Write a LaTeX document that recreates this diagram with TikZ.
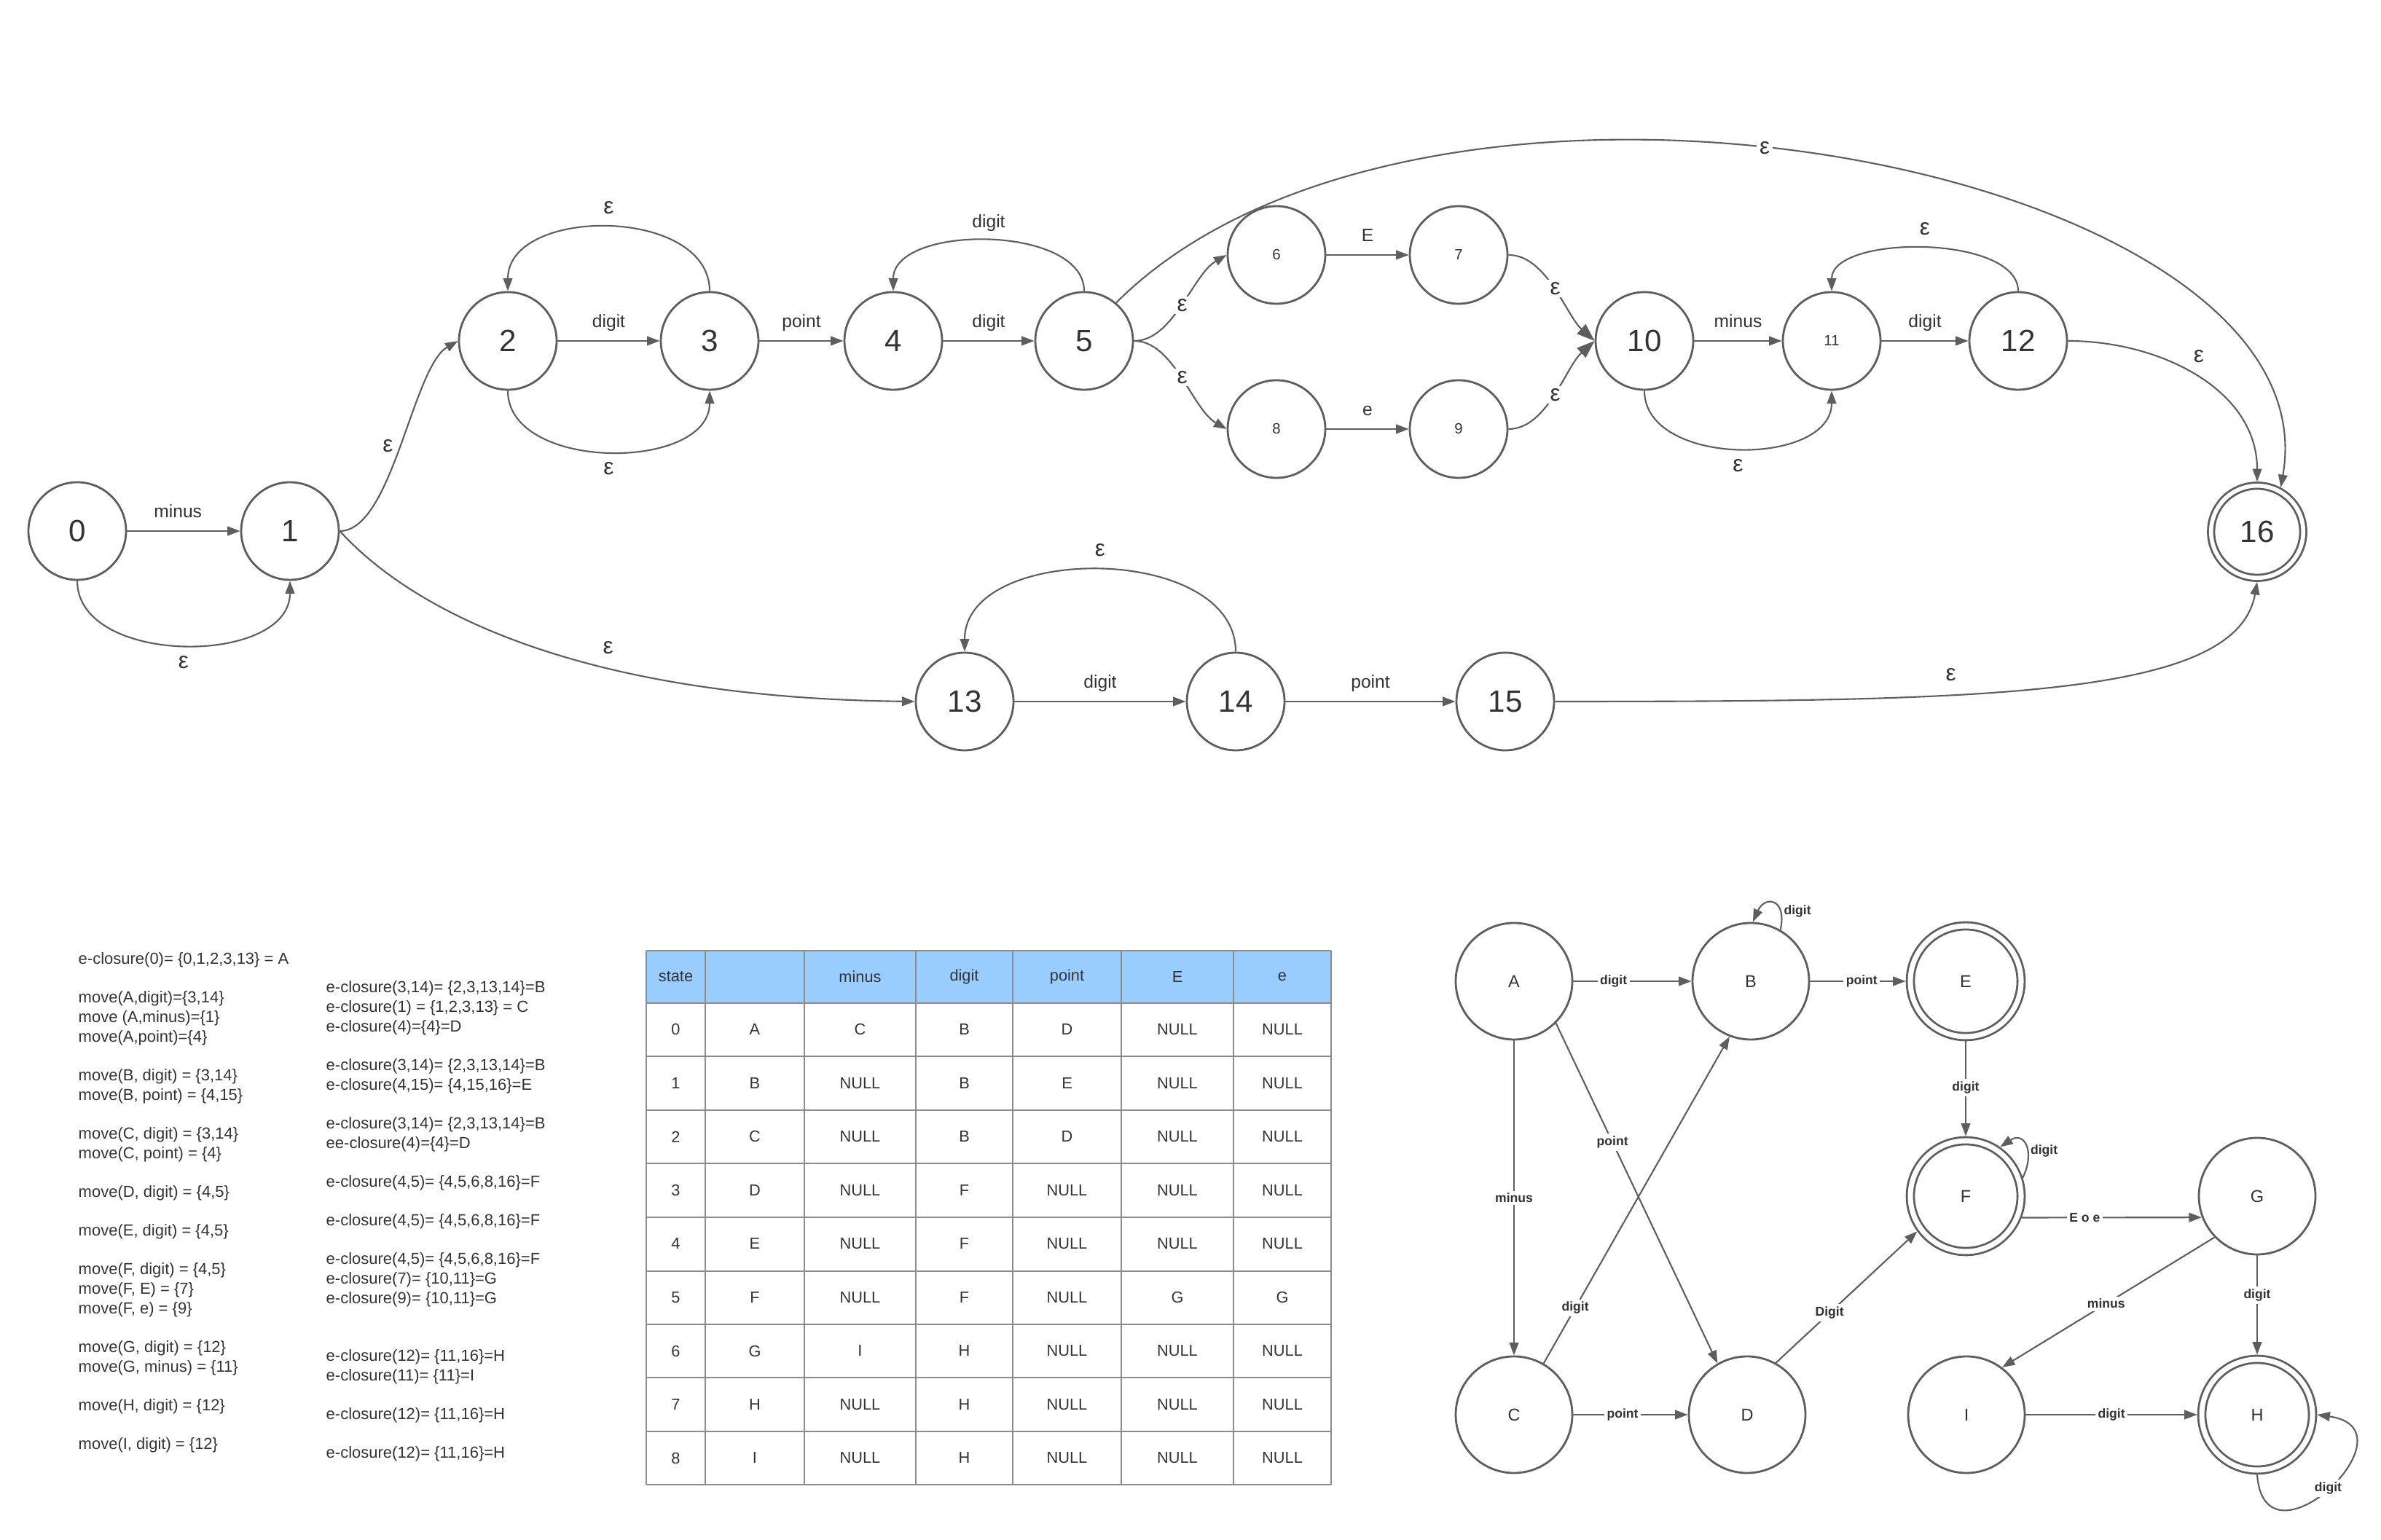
\documentclass[tikz,border=0pt]{standalone}
\usepackage{fontspec}
\setmainfont{Liberation Sans}
\usetikzlibrary{arrows.meta, positioning}
\definecolor{lineGray}{HTML}{5E5E5E}
\definecolor{textGray}{HTML}{333333}
\definecolor{gridGray}{HTML}{8C8C8C}
\definecolor{headBlue}{HTML}{99CCFF}
\tikzset{
  state/.style={circle, draw=lineGray, line width=0.8pt, minimum size=1.34cm, inner sep=0pt,
                text=textGray, font=\fontsize{12}{14}\selectfont},
  smallnum/.style={font=\fontsize{5.8}{7}\selectfont},
  finalstate/.style={double, double distance=1.6pt, minimum size=1.265cm, outer sep=1.6pt},
  link/.style={draw=lineGray, line width=0.6pt, ->},
  bigtip/.style={-{Triangle[length=7pt,width=5pt]}},
  sym/.style={text=textGray, font=\fontsize{7}{8}\selectfont, text height=5pt, text depth=1.5pt},
  eps/.style={text=textGray, font=\fontsize{9}{10}\selectfont, inner sep=2pt},
  onpath/.style={fill=white, inner sep=1pt},
  dstate/.style={circle, draw=lineGray, line width=0.8pt, minimum size=1.6cm, inner sep=0pt,
                 text=textGray, font=\fontsize{6.7}{8}\selectfont},
  daccept/.style={double, double distance=2pt, minimum size=1.52cm, outer sep=1.8pt},
  dlbl/.style={fill=white, inner sep=1pt, text=textGray, font=\fontsize{5}{6}\selectfont\bfseries},
  tcell/.style={text=textGray, font=\fontsize{6.2}{7}\selectfont},
  memo/.style={anchor=north west, align=left, inner sep=0pt, text=textGray,
               font=\fontsize{6.26}{7.68}\selectfont},
  >={Triangle[length=5pt,width=3.6pt]}
}
\begin{document}
\begin{tikzpicture}
\useasboundingbox (0,0) rectangle (32.68,21.13);

\node[state] (n0) at (1.06,13.84) {0};
\node[state] (n1) at (3.98,13.84) {1};
\node[state] (n2) at (6.97,16.45) {2};
\node[state] (n3) at (9.74,16.45) {3};
\node[state] (n4) at (12.26,16.45) {4};
\node[state] (n5) at (14.88,16.45) {5};
\node[state, smallnum] (n6) at (17.52,17.63) {6};
\node[state, smallnum] (n7) at (20.02,17.63) {7};
\node[state, smallnum] (n8) at (17.52,15.24) {8};
\node[state, smallnum] (n9) at (20.02,15.24) {9};
\node[state] (n10) at (22.57,16.45) {10};
\node[state, smallnum] (n11) at (25.14,16.45) {11};
\node[state] (n12) at (27.70,16.45) {12};
\node[state] (n13) at (13.24,11.50) {13};
\node[state] (n14) at (16.96,11.50) {14};
\node[state] (n15) at (20.66,11.50) {15};
\node[state, finalstate] (n16) at (30.98,13.83) {16};

\draw[link] (n0) -- node[sym, above, pos=0.45] {minus} (n1);
\draw[link] (n0.south) to[out=-90,in=-90,looseness=1.03] node[eps, below=2pt] {ε} (n1.south);
\draw[link] (n1.east) to[out=0,in=210,looseness=0.6] node[eps, pos=0.5, left=1pt] {ε} (n2.west);
\draw[link] (n1.east) .. controls +(1,-1.1) and +(-4.6,0.05) .. node[eps, pos=0.63, above=3pt] {ε} (n13.west);
\draw[link] (n2) -- node[sym, above] {digit} (n3);
\draw[link] (n3.north) to[out=90,in=90,looseness=1.08] node[eps, above=3pt] {ε} (n2.north);
\draw[link] (n2.south) to[out=-90,in=-90,looseness=1.03] node[eps, below=2pt] {ε} (n3.south);
\draw[link] (n3) -- node[sym, above] {point} (n4);
\draw[link] (n4) -- node[sym, above] {digit} (n5);
\draw[link] (n5.north) to[out=90,in=90,looseness=0.9] node[sym, above] {digit} (n4.north);
\draw[link] (n5.east) to[out=0,in=210,looseness=0.8] node[eps, onpath] {ε} (n6.west);
\draw[link] (n5.east) to[out=0,in=150,looseness=0.8] node[eps, onpath] {ε} (n8.west);
\draw[link] (n6) -- node[sym, above] {E} (n7);
\draw[link] (n8) -- node[sym, above] {e} (n9);
\draw[link, bigtip] (n7.east) to[out=0,in=138,looseness=0.8] node[eps, onpath] {ε} (n10.west);
\draw[link, bigtip] (n9.east) to[out=0,in=222,looseness=0.8] node[eps, onpath] {ε} (n10.west);
\draw[link] (n10) -- node[sym, above] {minus} (n11);
\draw[link] (n11) -- node[sym, above] {digit} (n12);
\draw[link] (n12.north) to[out=90,in=90,looseness=0.78] node[eps, above=3pt] {ε} (n11.north);
\draw[link] (n10.south) to[out=-90,in=-90,looseness=1.05] node[eps, below=2pt] {ε} (n11.south);
\draw[link] (n12.east) to[out=0,in=90] node[eps, pos=0.45, above right=1pt] {ε} (n16.north);
\draw[link] (n5.50) .. controls +(45:6) and +(80:4.5) .. node[eps, onpath, pos=0.455] {ε} (n16.62);
\draw[link] (n13) -- node[sym, above] {digit} (n14);
\draw[link] (n14.north) to[out=90,in=90,looseness=1.03] node[eps, above=3pt] {ε} (n13.north);
\draw[link] (n14) -- node[sym, above] {point} (n15);
\draw[link] (n15.east) .. controls +(6,0) and +(-100:1.6) .. node[eps, pos=0.36, above=3pt] {ε} (n16.south);

\node[memo] (movesL) at (1.07,8.06) {e-closure(0)= \{0,1,2,3,13\} = A\\[7.4pt]
move(A,digit)=\{3,14\}\\
move (A,minus)=\{1\}\\
move(A,point)=\{4\}\\[7.4pt]
move(B, digit) = \{3,14\}\\
move(B, point) = \{4,15\}\\[7.4pt]
move(C, digit) = \{3,14\}\\
move(C, point) = \{4\}\\[7.4pt]
move(D, digit) = \{4,5\}\\[7.4pt]
move(E, digit) = \{4,5\}\\[7.4pt]
move(F, digit) = \{4,5\}\\
move(F, E) = \{7\}\\
move(F, e) = \{9\}\\[7.4pt]
move(G, digit) = \{12\}\\
move(G, minus) = \{11\}\\[7.4pt]
move(H, digit) = \{12\}\\[7.4pt]
move(I, digit) = \{12\}};

\node[memo] (closR) at (4.47,7.67) {e-closure(3,14)= \{2,3,13,14\}=B\\
e-closure(1) = \{1,2,3,13\} = C\\
e-closure(4)=\{4\}=D\\[7.4pt]
e-closure(3,14)= \{2,3,13,14\}=B\\
e-closure(4,15)= \{4,15,16\}=E\\[7.4pt]
e-closure(3,14)= \{2,3,13,14\}=B\\
ee-closure(4)=\{4\}=D\\[7.4pt]
e-closure(4,5)= \{4,5,6,8,16\}=F\\[7.4pt]
e-closure(4,5)= \{4,5,6,8,16\}=F\\[7.4pt]
e-closure(4,5)= \{4,5,6,8,16\}=F\\
e-closure(7)= \{10,11\}=G\\
e-closure(9)= \{10,11\}=G\\[14.8pt]
e-closure(12)= \{11,16\}=H\\
e-closure(11)= \{11\}=I\\[7.4pt]
e-closure(12)= \{11,16\}=H\\[7.4pt]
e-closure(12)= \{11,16\}=H};

\fill[headBlue] (8.87,7.36) rectangle (18.27,8.08);
\foreach \x in {8.87,9.68,11.04,12.57,13.90,15.39,16.93,18.27}
  \draw[gridGray, line width=0.4pt] (\x,0.75) -- (\x,8.08);
\foreach \y in {0.75,1.48,2.22,2.95,3.68,4.42,5.16,5.89,6.63,7.36,8.08}
  \draw[gridGray, line width=0.4pt] (8.87,\y) -- (18.27,\y);
\foreach \x/\t [count=\k] in {9.275/state,11.805/minus,13.235/digit,14.645/point,16.16/E,17.60/e}
  \node[tcell] (h\k) at (\x,7.72) {\t};
\foreach \row/\dst/\vmin/\vdig/\vpt/\vE/\ve in {0/A/C/B/D/NULL/NULL,1/B/NULL/B/E/NULL/NULL,
    2/C/NULL/B/D/NULL/NULL,3/D/NULL/F/NULL/NULL/NULL,4/E/NULL/F/NULL/NULL/NULL,
    5/F/NULL/F/NULL/G/G,6/G/I/H/NULL/NULL/NULL,7/H/NULL/H/NULL/NULL/NULL,8/I/NULL/H/NULL/NULL/NULL}{
  \pgfmathsetmacro\yy{6.995-0.735*\row}
  \node[tcell] (c\row-1) at (9.275,\yy) {\row};
  \node[tcell] (c\row-2) at (10.36,\yy) {\dst};
  \node[tcell] (c\row-3) at (11.805,\yy) {\vmin};
  \node[tcell] (c\row-4) at (13.235,\yy) {\vdig};
  \node[tcell] (c\row-5) at (14.645,\yy) {\vpt};
  \node[tcell] (c\row-6) at (16.16,\yy) {\vE};
  \node[tcell] (c\row-7) at (17.60,\yy) {\ve};
}

\node[dstate] (A) at (20.78,7.66) {A};
\node[dstate] (B) at (24.03,7.66) {B};
\node[dstate, daccept] (E) at (26.98,7.66) {E};
\node[dstate, daccept] (F) at (26.98,4.71) {F};
\node[dstate] (G) at (30.98,4.71) {G};
\node[dstate] (C) at (20.78,1.71) {C};
\node[dstate] (D) at (23.98,1.71) {D};
\node[dstate] (I) at (26.99,1.71) {I};
\node[dstate, daccept] (H) at (30.98,1.71) {H};

\draw[link] (A) -- node[dlbl, pos=0.34] {digit} (B);
\draw[link] (B) -- node[dlbl, pos=0.54] {point} (E);
\draw[link] (E) -- node[dlbl, pos=0.49] {digit} (F);
\draw[link] (F.-21) -- node[dlbl, pos=0.35] {E o e} (G.201);
\draw[link] (A) -- node[dlbl] {minus} (C);
\draw[link] (A.-45) -- node[dlbl, pos=0.35] {point} (D.120);
\draw[link] (C.60) -- node[dlbl, pos=0.17] {digit} (B.249);
\draw[link] (C) -- node[dlbl, pos=0.43] {point} (D);
\draw[link] (D.61) -- node[dlbl, pos=0.38] {Digit} (F.216);
\draw[link] (G.224) -- node[dlbl, pos=0.51] {minus} (I.53);
\draw[link] (G) -- node[dlbl, pos=0.4] {digit} (H);
\draw[link] (I) -- node[dlbl] {digit} (H);
\draw[link] (B.60) .. controls +(78:0.45) and +(66:0.4) .. node[dlbl, fill=none, pos=0.25, right=0pt] {digit} (B.88);
\draw[link] (F.18) .. controls +(64:0.4) and +(34:0.4) .. node[dlbl, fill=none, pos=0.4, right=0pt] {digit} (F.55);
\draw[link] (H.-90) .. controls +(0.1,-1.4) and +(1.4,-0.2) .. node[dlbl] {digit} (H.0);
\end{tikzpicture}
\end{document}
